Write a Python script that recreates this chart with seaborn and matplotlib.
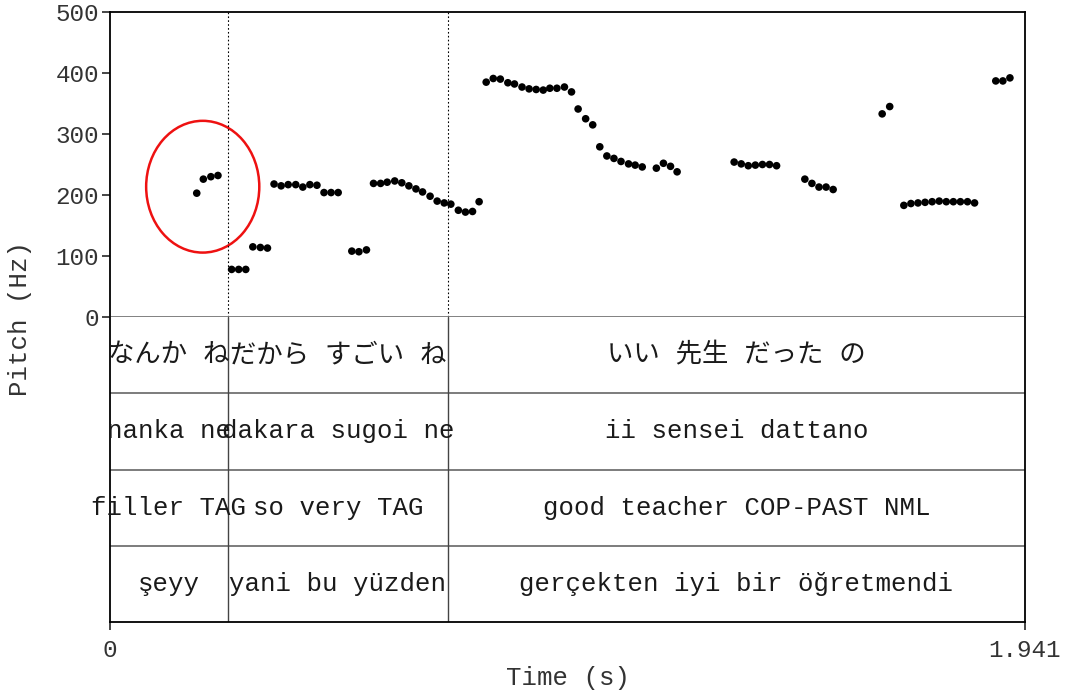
import numpy as np
import pandas as pd
import matplotlib
matplotlib.use("Agg")
import matplotlib.pyplot as plt
from matplotlib.patches import Ellipse
import seaborn as sns

sns.set_theme(style="white")
plt.rcParams["font.family"] = ["Liberation Mono", "Noto Sans CJK JP"]

# pitch track (seconds, Hz)
time_s = [0.184, 0.198, 0.214, 0.229,
          0.258, 0.273, 0.288,
          0.303, 0.319, 0.334,
          0.348, 0.363, 0.378, 0.394, 0.409, 0.424, 0.439, 0.454, 0.469, 0.484,
          0.513, 0.528, 0.544,
          0.559, 0.574, 0.588, 0.604, 0.619, 0.634, 0.649, 0.663, 0.679, 0.694,
          0.709, 0.723, 0.739, 0.754, 0.769, 0.783,
          0.798, 0.813, 0.828, 0.844, 0.858, 0.874, 0.889, 0.904, 0.919, 0.933,
          0.948, 0.964, 0.979,
          0.993, 1.009, 1.024, 1.039, 1.054, 1.069, 1.084, 1.100, 1.114, 1.129,
          1.159, 1.174, 1.189, 1.203,
          1.324, 1.339, 1.354, 1.369, 1.384, 1.399, 1.414,
          1.474, 1.489, 1.504, 1.519, 1.534,
          1.638, 1.654,
          1.684, 1.699, 1.714, 1.729, 1.744, 1.759, 1.774, 1.789, 1.804, 1.819, 1.834,
          1.879, 1.894, 1.909]
pitch_hz = [203, 226, 230, 232,
            78, 78, 78,
            115, 114, 113,
            218, 215, 217, 217, 213, 217, 216, 204, 204, 204,
            108, 107, 110,
            219, 219, 221, 223, 220, 215, 210, 205, 198, 190,
            187, 185, 175, 172, 173, 189,
            385, 391, 390, 384, 382, 377, 374, 373, 372, 375,
            375, 377, 369,
            341, 325, 315, 279, 264, 260, 255, 251, 249, 246,
            244, 252, 247, 238,
            254, 251, 248, 249, 250, 250, 248,
            226, 219, 213, 213, 209,
            333, 345,
            183, 186, 187, 188, 189, 190, 189, 189, 189, 189, 187,
            387, 387, 392]

duration = 1.941
boundaries = [0.2503, 0.717]
tier_japanese = ["なんか ね", "だから すごい ね", "いい 先生 だった の"]
tier_romaji = ["nanka ne", "dakara sugoi ne", "ii sensei dattano"]
tier_gloss = ["filler TAG", "so very TAG", "good teacher COP-PAST NML"]
tier_turkish = ["şeyy", "yani bu yüzden", "gerçekten iyi bir öğretmendi"]

df = pd.DataFrame({"time": time_s, "pitch": pitch_hz})

fig = plt.figure(figsize=(10.67, 6.94), dpi=100)
left, right = 110 / 1067, 1025 / 1067
ax = fig.add_axes([left, 1 - 317 / 694, right - left, (317 - 12) / 694])
tax = fig.add_axes([left, 1 - 622 / 694, right - left, (622 - 317) / 694])

# pitch panel
sns.scatterplot(data=df, x="time", y="pitch", ax=ax, color="black",
                s=30, edgecolor="none", legend=False)
for b in boundaries:
    ax.axvline(b, color="black", lw=0.8, ls=(0, (1.5, 2)))
ax.add_patch(Ellipse((0.1967, 213.6), 0.240, 216, fill=False,
                     edgecolor="#ee1111", lw=1.8))
ax.set_xlim(0, duration)
ax.set_ylim(0, 500)
ax.set_yticks([0, 100, 200, 300, 400, 500])
ax.set_xticks([])
ax.set_xlabel("")
ax.set_ylabel("")
ax.tick_params(axis="y", left=True, length=6, width=1.2, pad=2,
               labelsize=17.5, labelcolor="#333333")
for side in ["top", "right", "left"]:
    ax.spines[side].set_color("black")
    ax.spines[side].set_linewidth(1.3)
ax.spines["bottom"].set_color("#777777")
ax.spines["bottom"].set_linewidth(1.3)

# annotation tiers
tiers = [tier_japanese, tier_romaji, tier_gloss, tier_turkish]
edges = [0] + boundaries + [duration]
tax.set_xlim(0, duration)
tax.set_ylim(0, 4)
for row, labels in enumerate(tiers):
    yc = 3.5 - row
    for i, lab in enumerate(labels):
        xc = (edges[i] + edges[i + 1]) / 2
        size = 19 if row == 0 else 18.5
        tax.text(xc, yc, lab, ha="center", va="center", fontsize=size,
                 color="#1a1a1a")
for yl in [1, 2, 3]:
    tax.axhline(yl, color="#666666", lw=1.2)
for b in boundaries:
    tax.axvline(b, color="#444444", lw=1.0)
tax.set_yticks([])
tax.set_xticks([0, duration])
tax.set_xticklabels(["0", "1.941"])
tax.tick_params(axis="x", bottom=True, length=6, width=1.2, pad=6,
                labelsize=17.5, labelcolor="#333333")
tax.spines["top"].set_visible(False)
for side in ["left", "right", "bottom"]:
    tax.spines[side].set_color("black")
    tax.spines[side].set_linewidth(1.3)

fig.text(0.5 * (left + right), 1 - 678 / 694, "Time (s)", ha="center",
         va="center", fontsize=18.5, color="#333333")
fig.text(20 / 1067, 1 - 318 / 694, "Pitch (Hz)", ha="center", va="center",
         rotation=90, fontsize=18.5, color="#333333")

fig.savefig("out.png", dpi=100)
plt.close(fig)
